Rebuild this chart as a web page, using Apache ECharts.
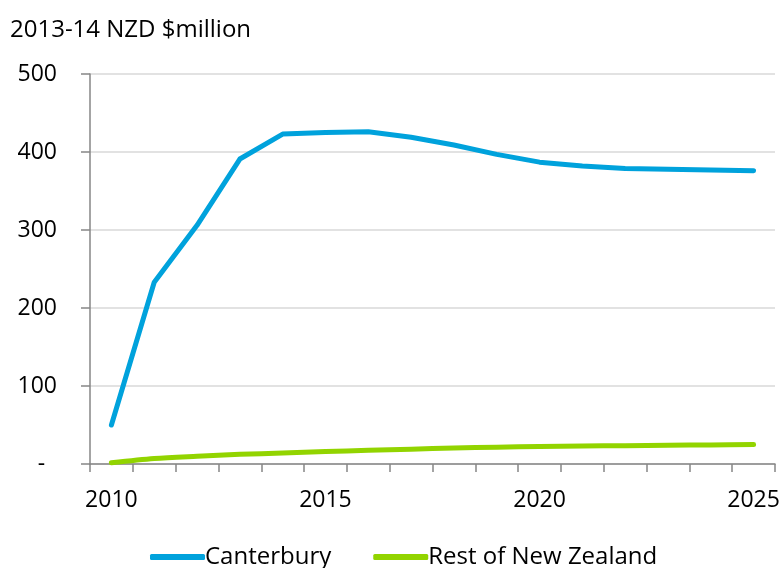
<!DOCTYPE html>
<html>
<head>
<meta charset="utf-8">
<script src="https://cdn.jsdelivr.net/npm/echarts@6/dist/echarts.min.js"></script>
<style>
  html, body { margin: 0; padding: 0; background: #fff; }
  #chart { width: 784px; height: 568px; }
</style>
</head>
<body>
<div id="chart"></div>
<script>
const years = ['2010', '2011', '2012', '2013', '2014', '2015', '2016', '2017',
  '2018', '2019', '2020', '2021', '2022', '2023', '2024', '2025']
const canterbury = [50, 233, 306, 391, 423, 425, 426, 419, 409, 397, 387, 382, 379, 378, 377, 376]
const restOfNZ = [1.5, 7, 10, 12.5, 14, 16, 17.5, 19, 20.5, 21.5, 22.5, 23, 23.5, 24, 24.5, 25]
const yTicks = [0, 100, 200, 300, 400, 500]

const font = '"Open Sans", sans-serif'
const chart = echarts.init(document.getElementById('chart'))

const option = {
  animation: false,
  title: {
    text: '2013-14 NZD $million',
    left: 5,
    top: 13,
    textStyle: { fontFamily: font, fontSize: 24, fontWeight: 'normal', color: '#000' }
  },
  legend: {
    left: 145,
    top: 540,
    icon: 'roundRect',
    itemWidth: 55,
    itemHeight: 6,
    itemGap: 42,
    textStyle: { fontFamily: font, fontSize: 24, color: '#000', padding: [0, 0, 0, -5] },
    data: ['Canterbury', 'Rest of New Zealand']
  },
  grid: { left: 90, right: 9, top: 74, bottom: 104 },
  xAxis: {
    type: 'category',
    data: years,
    boundaryGap: true,
    axisLine: { lineStyle: { color: '#868686', width: 1.5 } },
    axisTick: { show: true, interval: 0, length: 8, lineStyle: { color: '#868686', width: 1.5 } },
    axisLabel: { interval: 4, margin: 25, fontFamily: font, fontSize: 23, color: '#000' },
    splitLine: { show: false }
  },
  yAxis: {
    type: 'value',
    min: yTicks[0],
    max: yTicks[yTicks.length - 1],
    interval: 100,
    axisLine: { show: true, lineStyle: { color: '#868686', width: 1.5 } },
    axisTick: { show: true, length: 9, lineStyle: { color: '#868686', width: 1.5 } },
    axisLabel: {
      margin: 33,
      fontFamily: font,
      fontSize: 23,
      color: '#000',
      formatter: v => (v === 0 ? '-  ' : String(v))
    },
    splitLine: { lineStyle: { color: '#d9d9d9', width: 1.5 } }
  },
  series: [
    {
      name: 'Canterbury',
      type: 'line',
      data: canterbury,
      symbol: 'none',
      itemStyle: { color: '#00A2DC' },
      lineStyle: { color: '#00A2DC', width: 5, cap: 'round', join: 'round' }
    },
    {
      name: 'Rest of New Zealand',
      type: 'line',
      data: restOfNZ,
      symbol: 'none',
      smooth: 0.3,
      itemStyle: { color: '#92D400' },
      lineStyle: { color: '#92D400', width: 5, cap: 'round', join: 'round' }
    }
  ]
}

chart.setOption(option)
</script>
</body>
</html>
